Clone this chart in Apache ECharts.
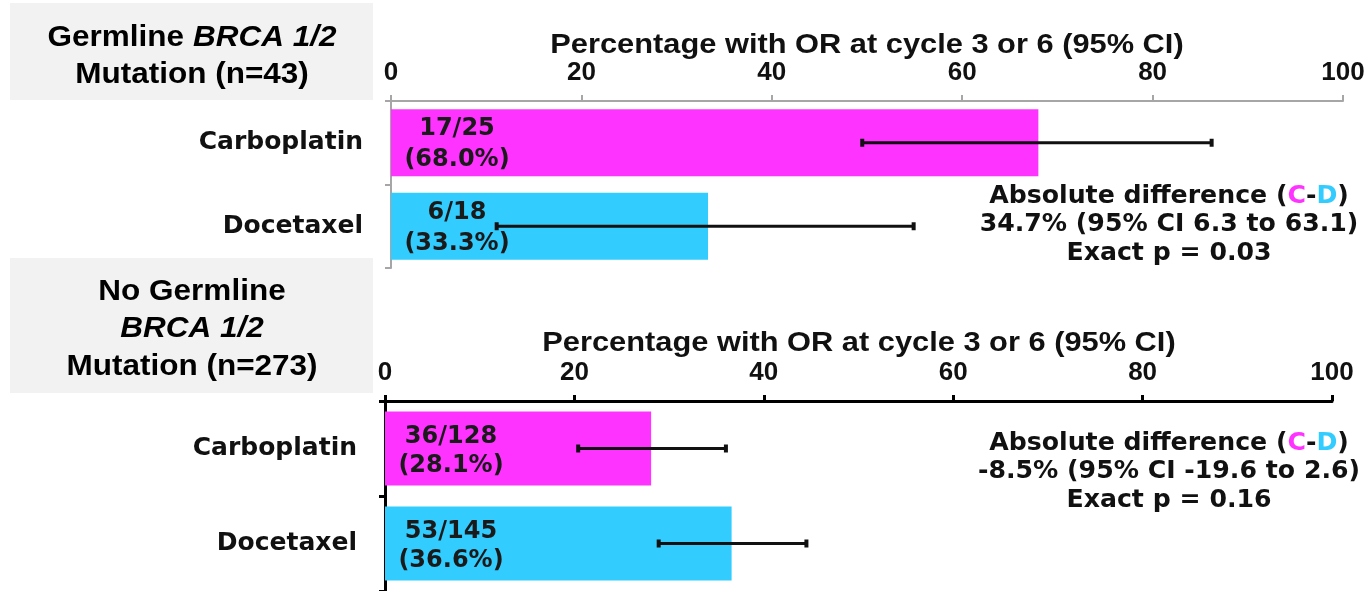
<!DOCTYPE html>
<html>
<head>
<meta charset="utf-8">
<script src="https://cdn.jsdelivr.net/npm/echarts@6/dist/echarts.min.js"></script>
<style>
  html, body { margin: 0; padding: 0; background: #ffffff; }
  #chart { width: 1372px; height: 591px; }
</style>
</head>
<body>
<div id="chart"></div>
<script>
// Treatment arms
const categories = ['Carboplatin', 'Docetaxel'];
const armColors = ['#ff33ff', '#33ccff'];

// Germline BRCA 1/2 mutation subgroup (n=43)
const brcaResponders = [17, 6];
const brcaTotals = [25, 18];
const brcaPct = [68.0, 33.3];
const brcaCiLow = [49.5, 11.1];
const brcaCiHigh = [86.2, 54.9];

// No germline BRCA 1/2 mutation subgroup (n=273)
const noBrcaResponders = [36, 53];
const noBrcaTotals = [128, 145];
const noBrcaPct = [28.1, 36.6];
const noBrcaCiLow = [20.4, 28.9];
const noBrcaCiHigh = [36.0, 44.5];

// Axis range
const axisMin = 0;
const axisMax = 100;
const axisStep = 20;

// Text
const axisTitle = 'Percentage with OR at cycle 3 or 6 (95% CI)';
const brcaDiff = ['34.7% (95% CI 6.3 to 63.1)', 'Exact p = 0.03'];
const noBrcaDiff = ['-8.5% (95% CI -19.6 to 2.6)', 'Exact p = 0.16'];

const chart = echarts.init(document.getElementById('chart'), null, { renderer: 'canvas' });

function barData(pct) {
  return pct.map((v, i) => ({ value: v, itemStyle: { color: armColors[i] } }));
}
function labelFor(resp, tot, pct) {
  return p => resp[p.dataIndex] + '/' + tot[p.dataIndex] + '\n(' + pct[p.dataIndex].toFixed(1) + '%)';
}
function ciData(lo, hi) {
  return lo.map((v, i) => [i, v, hi[i]]);
}
function renderCi(params, api) {
  const idx = api.value(0);
  const a = api.coord([api.value(1), idx]);
  const b = api.coord([api.value(2), idx]);
  const capW = 4, capH = 8;
  return {
    type: 'group',
    children: [
      { type: 'line', shape: { x1: a[0], y1: a[1], x2: b[0], y2: b[1] }, style: { stroke: '#111', lineWidth: 3 } },
      { type: 'rect', shape: { x: a[0] - capW / 2, y: a[1] - capH / 2, width: capW, height: capH }, style: { fill: '#111' } },
      { type: 'rect', shape: { x: b[0] - capW / 2, y: b[1] - capH / 2, width: capW, height: capH }, style: { fill: '#111' } }
    ]
  };
}

function xAxisFor(gridIndex, lineColor, lineWidth) {
  return {
    type: 'value', gridIndex, position: 'top',
    min: axisMin, max: axisMax, interval: axisStep,
    splitLine: { show: false },
    axisLine: { show: true, lineStyle: { color: lineColor, width: lineWidth } },
    axisTick: { show: true, length: 6, lineStyle: { color: lineColor, width: lineWidth } },
    axisLabel: { margin: 15, fontFamily: 'Liberation Sans', fontWeight: 'bold', fontSize: 26, color: '#111' }
  };
}
function yAxisFor(gridIndex, lineColor, lineWidth) {
  return {
    type: 'category', gridIndex, data: categories, inverse: true,
    axisLine: { show: true, lineStyle: { color: lineColor, width: lineWidth } },
    axisTick: { show: true, length: 6, lineStyle: { color: lineColor, width: lineWidth } },
    axisLabel: { margin: 28, fontFamily: 'DejaVu Sans', fontWeight: 'bold', fontSize: 25, color: '#111' }
  };
}
const barLabel = (resp, tot, pct, lineH, dy) => ({
  show: true,
  position: [66, '50%'],
  offset: [0, dy],
  align: 'center', verticalAlign: 'middle',
  fontFamily: 'DejaVu Sans', fontWeight: 'bold', fontSize: 24, lineHeight: lineH, color: '#1a1a1a',
  formatter: labelFor(resp, tot, pct)
});

function diffText(cx, cy, lines) {
  const base = { fontFamily: 'DejaVu Sans', fontWeight: 'bold', fontSize: 24, fill: '#111', lineHeight: 28.5 };
  return {
    type: 'text', x: cx, y: cy, scaleX: 1.05, z: 10,
    style: {
      text: '{b|Absolute difference (}{c|C}{b|-}{d|D}{b|)}\n{b|' + lines[0] + '}\n{b|' + lines[1] + '}',
      align: 'center', verticalAlign: 'middle',
      rich: {
        b: Object.assign({}, base),
        c: Object.assign({}, base, { fill: armColors[0] }),
        d: Object.assign({}, base, { fill: armColors[1] })
      }
    }
  };
}
function boxText(cx, cy, text) {
  const base = { fontFamily: 'Liberation Sans', fontWeight: 'bold', fontSize: 30, fill: '#000', lineHeight: 37.5 };
  return {
    type: 'text', x: cx, y: cy, scaleX: 1.05, z: 10,
    style: {
      text, align: 'center', verticalAlign: 'middle',
      rich: { n: Object.assign({}, base), i: Object.assign({}, base, { fontStyle: 'italic' }) }
    }
  };
}
function titleText(cx, cy) {
  return {
    type: 'text', x: cx, y: cy, scaleX: 1.1, z: 10,
    style: { text: axisTitle, align: 'center', verticalAlign: 'middle',
      font: 'bold 28px "Liberation Sans"', fill: '#111' }
  };
}

const option = {
  animation: false,
  backgroundColor: '#ffffff',
  grid: [
    { left: 391, top: 101, width: 952, height: 167 },
    { left: 385, top: 401, width: 947, height: 191 }
  ],
  xAxis: [xAxisFor(0, '#a6a6a6', 2), xAxisFor(1, '#000000', 3)],
  yAxis: [yAxisFor(0, '#a6a6a6', 2), yAxisFor(1, '#000000', 3)],
  graphic: [
    { type: 'rect', shape: { x: 10, y: 3, width: 363, height: 97 }, style: { fill: '#f2f2f2' }, z: 0 },
    { type: 'rect', shape: { x: 10, y: 258, width: 363, height: 135 }, style: { fill: '#f2f2f2' }, z: 0 },
    boxText(192, 56, '{n|Germline }{i|BRCA 1/2}\n{n|Mutation (n=43)}'),
    boxText(192, 329, '{n|No Germline}\n{i|BRCA 1/2}\n{n|Mutation (n=273)}'),
    titleText(867, 45),
    titleText(859, 343),
    diffText(1169, 225, brcaDiff),
    diffText(1169, 472, noBrcaDiff)
  ],
  series: [
    {
      type: 'bar', xAxisIndex: 0, yAxisIndex: 0, barWidth: 67,
      data: barData(brcaPct), label: barLabel(brcaResponders, brcaTotals, brcaPct, 31, 2)
    },
    {
      type: 'custom', xAxisIndex: 0, yAxisIndex: 0, renderItem: renderCi,
      encode: { x: [1, 2], y: 0 }, data: ciData(brcaCiLow, brcaCiHigh), z: 5
    },
    {
      type: 'bar', xAxisIndex: 1, yAxisIndex: 1, barWidth: 74,
      data: barData(noBrcaPct), label: barLabel(noBrcaResponders, noBrcaTotals, noBrcaPct, 29, 3)
    },
    {
      type: 'custom', xAxisIndex: 1, yAxisIndex: 1, renderItem: renderCi,
      encode: { x: [1, 2], y: 0 }, data: ciData(noBrcaCiLow, noBrcaCiHigh), z: 5
    }
  ]
};
chart.setOption(option);
</script>
</body>
</html>
